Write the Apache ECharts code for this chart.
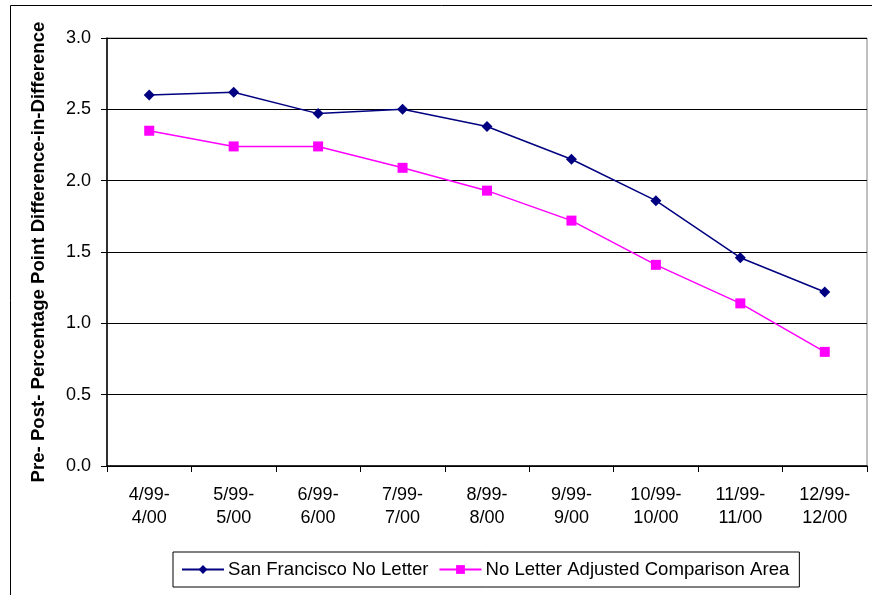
<!DOCTYPE html>
<html><head><meta charset="utf-8">
<script src="https://cdn.jsdelivr.net/npm/echarts@6/dist/echarts.min.js"></script>
<style>html,body{margin:0;padding:0;background:#fff}#c{width:872px;height:595px}</style>
</head><body><div id="c"></div>
<script>
var categories = ['4/99-\n4/00','5/99-\n5/00','6/99-\n6/00','7/99-\n7/00','8/99-\n8/00','9/99-\n9/00','10/99-\n10/00','11/99-\n11/00','12/99-\n12/00'];
var sfNoLetter = [2.60, 2.62, 2.47, 2.50, 2.38, 2.15, 1.86, 1.46, 1.22];
var adjComparison = [2.35, 2.24, 2.24, 2.09, 1.93, 1.72, 1.41, 1.14, 0.80];
var seriesNames = ['San Francisco No Letter', 'No Letter Adjusted Comparison Area'];
var yTitle = 'Pre- Post- Percentage Point Difference-in-Difference';

var chart = echarts.init(document.getElementById('c'));
var font = 'Liberation Sans, Arial, sans-serif';
chart.setOption({
  animation: false,
  backgroundColor: '#fff',
  textStyle: {fontFamily: font},
  grid: {left: 107, right: 5, top: 38, bottom: 129, show: true, borderColor: '#808080', borderWidth: 1, backgroundColor: '#fff'},
  legend: {
    data: seriesNames, left: 173, top: 552,
    padding: [8, 10, 8, 8], itemGap: 10, itemWidth: 42, itemHeight: 11,
    borderColor: '#000', borderWidth: 1, backgroundColor: '#fff',
    textStyle: {fontSize: 18.6, color: '#000', fontFamily: font, padding: [0, 0, 0, -1]}
  },
  graphic: [
    {type: 'line', shape: {x1: 10.5, y1: 5.5, x2: 10.5, y2: 595}, style: {stroke: '#000', lineWidth: 1}},
    {type: 'line', shape: {x1: 10.5, y1: 5.5, x2: 872, y2: 5.5}, style: {stroke: '#000', lineWidth: 1}}
  ],
  xAxis: {
    type: 'category', data: categories, boundaryGap: true,
    axisLine: {lineStyle: {color: '#000', width: 1.5}},
    axisTick: {show: true, length: 6, lineStyle: {color: '#000'}},
    axisLabel: {fontSize: 18, color: '#000', margin: 18, lineHeight: 23, fontFamily: font},
    splitLine: {show: false}
  },
  yAxis: {
    type: 'value', min: 0, max: 3, interval: 0.5,
    name: yTitle, nameLocation: 'middle', nameGap: 59,
    nameTextStyle: {fontSize: 18.6, fontWeight: 'bold', color: '#000', fontFamily: font},
    axisLine: {show: true, lineStyle: {color: '#000', width: 1.5}},
    axisTick: {show: true, length: 6, lineStyle: {color: '#000'}},
    axisLabel: {fontSize: 18, color: '#000', margin: 16, formatter: function(v){return v.toFixed(1);}, fontFamily: font},
    splitLine: {show: true, lineStyle: {color: '#000', width: 1}}
  },
  series: [
    {name: seriesNames[0], type: 'line', data: sfNoLetter, symbol: 'diamond', symbolSize: 11,
     itemStyle: {color: '#000080'}, lineStyle: {color: '#000080', width: 1.5}},
    {name: seriesNames[1], type: 'line', data: adjComparison, symbol: 'rect', symbolSize: 10,
     itemStyle: {color: '#FF00FF'}, lineStyle: {color: '#FF00FF', width: 1.5}}
  ]
});
</script></body></html>
